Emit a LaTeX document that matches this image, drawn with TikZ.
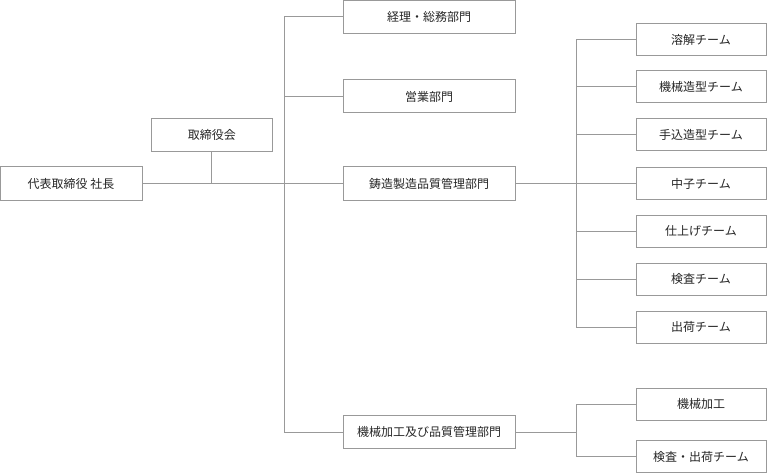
\documentclass[tikz,border=0pt]{standalone}
\usepackage{fontspec}
\setmainfont{Noto Sans CJK JP}
\begin{document}
\begin{tikzpicture}[x=0.75pt,y=-0.75pt,
  box/.style={draw=linegray,line width=0.75pt,fill=white,inner sep=0pt,
    font=\fontsize{9pt}{11pt}\selectfont,text=black!85},
  dept/.style={box,minimum width=129pt,minimum height=24.75pt},
  team/.style={box,minimum width=97.5pt,minimum height=24pt},
  conn/.style={draw=linegray,line width=0.75pt}]
\definecolor{linegray}{HTML}{999999}
\useasboundingbox (0,0) rectangle (767,474);
\node[box,minimum width=106.5pt,minimum height=24.75pt] (ceo) at (71,183.5) {代表取締役 社長};
\node[box,minimum width=90.75pt,minimum height=24.75pt] (board) at (211.75,135) {取締役会};
\node[dept] (d1) at (429,17) {経理・総務部門};
\node[dept] (d2) at (429,96.5) {営業部門};
\node[dept] (d3) at (429,183.5) {鋳造製造品質管理部門};
\node[dept] (d4) at (429,432) {機械加工及び品質管理部門};
\node[team] (t1) at (701,39.5) {溶解チーム};
\node[team] (t2) at (701,87) {機械造型チーム};
\node[team] (t3) at (701,135) {手込造型チーム};
\node[team] (t4) at (701,183.5) {中子チーム};
\node[team] (t5) at (701,231) {仕上げチーム};
\node[team] (t6) at (701,279) {検査チーム};
\node[team] (t7) at (701,327) {出荷チーム};
\node[team] (m1) at (701,404) {機械加工};
\node[team] (m2) at (701,456.5) {検査・出荷チーム};
\coordinate (tr) at (284.5,183.5);
\coordinate (tr2) at (576,183.5);
\draw[conn] (ceo.east) -- (d3.west);
\draw[conn] (board.south) -- (board.south |- ceo.east);
\draw[conn] (d1.west) -- (d1.west -| tr) -- (d4.west -| tr) -- (d4.west);
\draw[conn] (d2.west -| tr) -- (d2.west);
\draw[conn] (d3.east) -- (t4.west);
\draw[conn] (t1.west) -- (t1.west -| tr2) -- (t7.west -| tr2) -- (t7.west);
\foreach \t in {t2,t3,t5,t6} \draw[conn] (\t.west -| tr2) -- (\t.west);
\draw[conn] (m1.west) -- (m1.west -| tr2) -- (m2.west -| tr2) -- (m2.west);
\draw[conn] (d4.east) -- (d4.east -| tr2);
\end{tikzpicture}
\end{document}
